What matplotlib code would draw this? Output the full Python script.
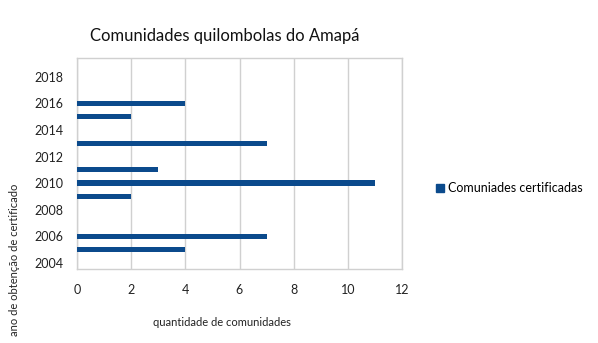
import matplotlib
matplotlib.use("Agg")
import matplotlib.pyplot as plt
from matplotlib.patches import Patch

years = [2005, 2006, 2009, 2010, 2011, 2013, 2015, 2016]
counts = [4, 7, 2, 11, 3, 7, 2, 4]
year_ticks = [2004, 2006, 2008, 2010, 2012, 2014, 2016, 2018]
x_ticks = [0, 2, 4, 6, 8, 10, 12]

plt.rcParams['font.family'] = ['Lato', 'DejaVu Sans']
W, H = 598, 343
fig = plt.figure(figsize=(W/100, H/100), dpi=100)
ax = fig.add_axes([77/W, 1-269/H, (402-77)/W, (269-58)/H])

color = '#0b4a8c'
ax.barh(years, counts, height=0.4, color=color, zorder=3)
ax.set_xlim(0, 12)
ax.set_ylim(2003.55, 2019.4)
ax.set_xticks(x_ticks)
ax.set_yticks(year_ticks)
ax.tick_params(length=0, labelsize=9, labelcolor='#222222')
ax.tick_params(axis='x', pad=11)
ax.tick_params(axis='y', pad=10)
ax.grid(axis='x', color='#d0d0d0', linewidth=1, zorder=0)
for s in ax.spines.values():
    s.set_color('#d0d0d0')
    s.set_linewidth(1)

fig.text(225/W, 1-36/H, 'Comunidades quilombolas do Amapá', ha='center', va='center', fontsize=12, color='#111111')
fig.text(222/W, 1-322/H, 'quantidade de comunidades', ha='center', va='center', fontsize=8, color='#222222')
fig.text(15/W, 1-260/H, 'ano de obtenção de certificado', ha='center', va='center', rotation=90, fontsize=8, color='#222222')

fig.legend(handles=[Patch(color=color)], labels=['Comuniades certificadas'],
           loc='center left', bbox_to_anchor=(425/W, 1-188/H), frameon=False,
           fontsize=9, handlelength=0.6, handleheight=0.6, handletextpad=0.3)

fig.savefig('out.png', dpi=100, facecolor='white')
